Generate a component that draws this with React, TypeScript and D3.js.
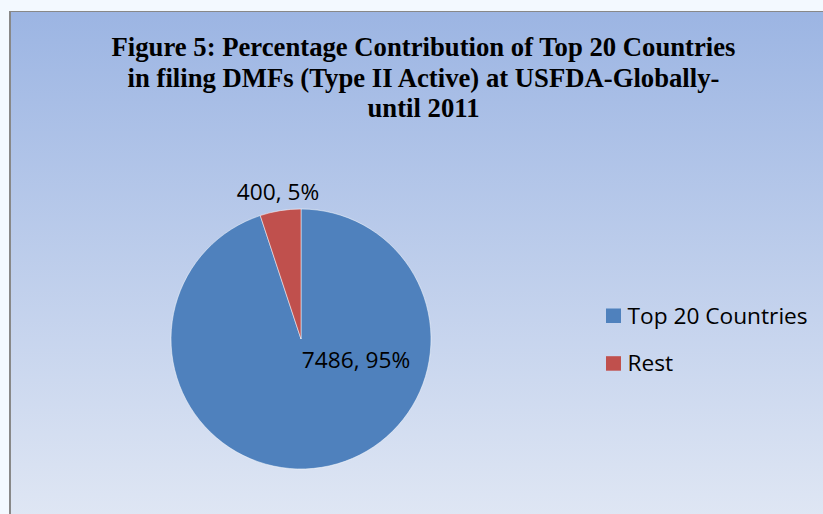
import React from "react";
import * as d3 from "d3";

const categories = ["Top 20 Countries", "Rest"];
const values = [7486, 400];
const percentLabels = ["95%", "5%"];
const colors = ["#4f81bd", "#c0504d"];
const titleLines = [
  "Figure 5: Percentage Contribution of Top 20 Countries",
  "in filing DMFs (Type II Active) at USFDA-Globally-",
  "until 2011",
];

export default function App() {
  const W = 823, H = 514;
  const cx = 301, cy = 339, r = 130;
  const pie = d3.pie<number>().sort(null).value((d) => d);
  const arcs = pie(values);
  const arcGen = d3.arc<d3.PieArcDatum<number>>().innerRadius(0).outerRadius(r);
  const labelPos: [number, number][] = [
    [356, 368],
    [278, 200],
  ];
  return (
    <svg width={W} height={H} style={{ position: "fixed", left: 0, top: 0 }}>
      <defs>
        <linearGradient id="bg" x1="0" y1="0" x2="0" y2="1">
          <stop offset="0%" stopColor="#9cb5e3" />
          <stop offset="100%" stopColor="#e0e7f4" />
        </linearGradient>
      </defs>
      <rect x={0} y={0} width={W} height={H} fill="#f3f9ff" />
      <rect x={10} y={11} width={W} height={H} fill="url(#bg)" />
      <line x1={10} y1={11.5} x2={W} y2={11.5} stroke="#888" strokeWidth={1} />
      <line x1={10} y1={11} x2={10} y2={H} stroke="#888" strokeWidth={2} />
      {titleLines.map((t, i) => (
        <text
          key={i}
          x={423.5}
          y={56 + i * 30.5}
          textAnchor="middle"
          fontFamily="'Liberation Serif', serif"
          fontWeight="bold"
          fontSize={26.7}
        >
          {t}
        </text>
      ))}
      <g transform={`translate(${cx},${cy})`}>
        {arcs.map((a, i) => (
          <path key={i} d={arcGen(a) || ""} fill={colors[i]} stroke="#ffffff" strokeWidth={0.5} />
        ))}
      </g>
      {arcs.map((a, i) => (
        <text
          key={i}
          x={labelPos[i][0]}
          y={labelPos[i][1]}
          textAnchor="middle"
          fontFamily="'Open Sans', sans-serif"
          fontSize={22.7}
          fill="#000"
        >
          {`${values[i]}, ${percentLabels[i]}`}
        </text>
      ))}
      {categories.map((c, i) => (
        <g key={c} transform={`translate(606,${308.5 + i * 47.7})`}>
          <rect x={0} y={0} width={15} height={14.5} fill={colors[i]} />
          <text x={21.5} y={15} fontFamily="'Open Sans', sans-serif" fontSize={22.7} fill="#000">
            {c}
          </text>
        </g>
      ))}
    </svg>
  );
}
